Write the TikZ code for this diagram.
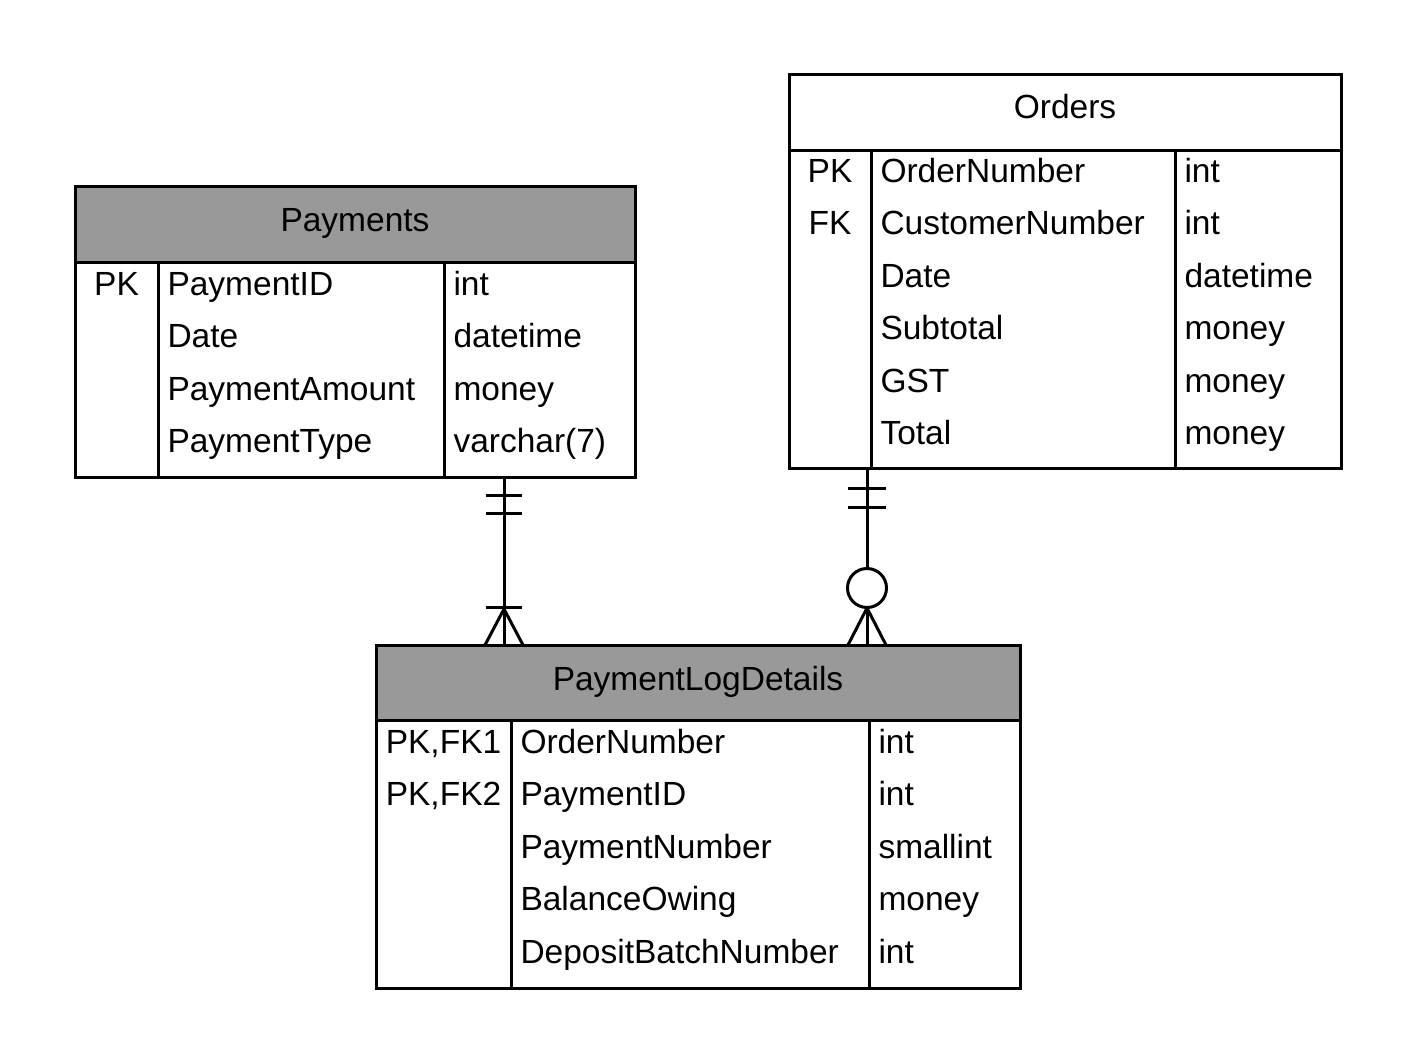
\documentclass[tikz,border=0pt]{standalone}
\usepackage{fontspec}
\setmainfont{Liberation Sans}
\begin{document}
\begin{tikzpicture}[x=1pt,y=-1pt,line width=3pt,
  tbox/.style={draw,rectangle,inner sep=0pt,line width=3pt},
  hdr/.style={fill=black!40},
  txt/.style={anchor=base west,inner sep=0pt,xshift=-2pt,yshift=1pt,font=\fontsize{33.5}{40}\selectfont},
  ctxt/.style={anchor=base,inner sep=0pt,yshift=1pt,font=\fontsize{33.5}{40}\selectfont}]
\useasboundingbox (0,0) rectangle (1416,1063);
% ---------- Payments ----------
\fill[hdr] (75,186) rectangle (635,262);
\node[tbox,minimum width=560pt,minimum height=291pt] (pay) at (355,331.5) {};
\draw (75,262) -- (635,262);
\draw (158,262) -- (158,477);
\draw (444,262) -- (444,477);
\node[ctxt] (payh) at (355,232) {Payments};
\node[ctxt] (pay1k) at (116.5,296) {PK};
\node[txt] (pay1n) at (168,296) {PaymentID};
\node[txt] (pay1t) at (454,296) {int};
\node[txt] (pay2n) at (168,348) {Date};
\node[txt] (pay2t) at (454,348) {datetime};
\node[txt] (pay3n) at (168,401) {PaymentAmount};
\node[txt] (pay3t) at (454,401) {money};
\node[txt] (pay4n) at (168,453) {PaymentType};
\node[txt] (pay4t) at (454,453) {varchar(7)};
% ---------- Orders ----------
\node[tbox,minimum width=552pt,minimum height=394pt] (ord) at (1065,271) {};
\draw (789,150) -- (1341,150);
\draw (871,150) -- (871,468);
\draw (1175,150) -- (1175,468);
\node[ctxt] (ordh) at (1065,119) {Orders};
\node[ctxt] (ord1k) at (830,183) {PK};
\node[txt] (ord1n) at (881,183) {OrderNumber};
\node[txt] (ord1t) at (1185,183) {int};
\node[ctxt] (ord2k) at (830,235) {FK};
\node[txt] (ord2n) at (881,235) {CustomerNumber};
\node[txt] (ord2t) at (1185,235) {int};
\node[txt] (ord3n) at (881,288) {Date};
\node[txt] (ord3t) at (1185,288) {datetime};
\node[txt] (ord4n) at (881,340) {Subtotal};
\node[txt] (ord4t) at (1185,340) {money};
\node[txt] (ord5n) at (881,393) {GST};
\node[txt] (ord5t) at (1185,393) {money};
\node[txt] (ord6n) at (881,445) {Total};
\node[txt] (ord6t) at (1185,445) {money};
% ---------- PaymentLogDetails ----------
\fill[hdr] (376,645) rectangle (1020,720);
\node[tbox,minimum width=644pt,minimum height=343pt] (pld) at (698,816.5) {};
\draw (376,720) -- (1020,720);
\draw (511,720) -- (511,988);
\draw (869,720) -- (869,988);
\node[ctxt] (pldh) at (698,691) {PaymentLogDetails};
\node[ctxt] (pld1k) at (443.5,754) {PK,FK1};
\node[txt] (pld1n) at (521,754) {OrderNumber};
\node[txt] (pld1t) at (879,754) {int};
\node[ctxt] (pld2k) at (443.5,806) {PK,FK2};
\node[txt] (pld2n) at (521,806) {PaymentID};
\node[txt] (pld2t) at (879,806) {int};
\node[txt] (pld3n) at (521,859) {PaymentNumber};
\node[txt] (pld3t) at (879,859) {smallint};
\node[txt] (pld4n) at (521,911) {BalanceOwing};
\node[txt] (pld4t) at (879,911) {money};
\node[txt] (pld5n) at (521,964) {DepositBatchNumber};
\node[txt] (pld5t) at (879,964) {int};
% ---------- connector Payments -> PaymentLogDetails ----------
\draw (pay.south -| 504,0) -- (pld.north -| 504,0);
\draw (486,495) -- (522,495);
\draw (486,513) -- (522,513);
\draw (486,607) -- (522,607);
\draw (485,645) -- (504,609) -- (523,645);
% ---------- connector Orders -> PaymentLogDetails ----------
\draw (ord.south -| 867,0) -- (pld.north -| 867,0);
\draw (848,488) -- (886,488);
\draw (848,507) -- (886,507);
\draw (848,645) -- (867,608) -- (886,645);
\draw[fill=white] (867,588) circle (19.5pt);
\end{tikzpicture}
\end{document}
